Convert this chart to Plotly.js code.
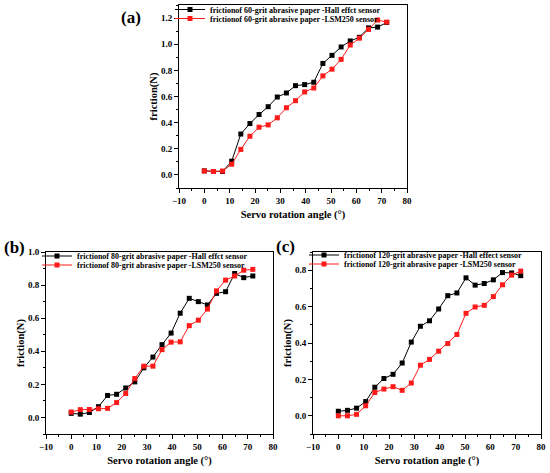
<!DOCTYPE html>
<html>
<head>
<meta charset="utf-8">
<script src="https://cdn.plot.ly/plotly-3.0.1.min.js"></script>
<style>html,body{margin:0;padding:0;background:#fff;}#chart{width:550px;height:473px;}</style>
</head>
<body>
<div id="chart"></div>
<script>
// Servo rotation angle (degrees)
const angle = [0, 3.6, 7.2, 10.8, 14.4, 18, 21.6, 25.2, 28.8, 32.4, 36, 39.6, 43.2, 46.8, 50.4, 54, 57.6, 61.2, 64.8, 68.4, 72];

// (a) 60-grit
const hall60 = [0.031, 0.026, 0.026, 0.105, 0.313, 0.393, 0.462, 0.522, 0.596, 0.627, 0.683, 0.691, 0.709, 0.853, 0.915, 0.979, 1.025, 1.053, 1.125, 1.131, 1.166];
const lsm60  = [0.031, 0.026, 0.030, 0.082, 0.195, 0.296, 0.365, 0.383, 0.437, 0.514, 0.568, 0.635, 0.665, 0.758, 0.809, 0.884, 0.994, 1.046, 1.113, 1.185, 1.169];

// (b) 80-grit
const hall80 = [0.025, 0.020, 0.030, 0.065, 0.133, 0.140, 0.178, 0.215, 0.300, 0.365, 0.440, 0.510, 0.630, 0.720, 0.700, 0.680, 0.750, 0.760, 0.870, 0.845, 0.855];
const lsm80  = [0.033, 0.047, 0.048, 0.053, 0.055, 0.090, 0.145, 0.235, 0.310, 0.310, 0.410, 0.455, 0.457, 0.555, 0.588, 0.655, 0.765, 0.830, 0.855, 0.890, 0.895];

// (c) 120-grit
const hall120 = [0.025, 0.030, 0.042, 0.078, 0.157, 0.205, 0.228, 0.290, 0.405, 0.492, 0.522, 0.587, 0.660, 0.675, 0.758, 0.718, 0.727, 0.747, 0.787, 0.785, 0.770];
const lsm120  = [0.000, 0.000, 0.008, 0.055, 0.128, 0.147, 0.160, 0.140, 0.180, 0.278, 0.310, 0.355, 0.397, 0.447, 0.563, 0.598, 0.607, 0.655, 0.720, 0.773, 0.795];

const names = {
  hall60: 'frictionof 60-grit abrasive paper -Hall effct sensor',
  lsm60: 'frictionof 60-grit abrasive paper -LSM250 sensor',
  hall80: 'frictionof 80-grit abrasive paper -Hall effct sensor',
  lsm80: 'frictionof 80-grit abrasive paper -LSM250 sensor',
  hall120: 'frictionof 120-grit abrasive paper -Hall effect sensor',
  lsm120: 'frictionof 120-grit abrasive paper -LSM250 sensor'
};
const xTitle = 'Servo rotation angle (°)';
const yTitle = 'friction(N)';
const panelLabels = ['(a)', '(b)', '(c)'];

const FONT = 'Liberation Serif, Times New Roman, serif';
const BLACK = '#000000';
const RED = '#ff1a1a';

function tr(y, name, color, ax, leg) {
  return {
    x: angle, y: y, name: name, type: 'scatter', mode: 'lines+markers',
    xaxis: 'x' + ax, yaxis: 'y' + ax, legend: leg,
    line: {color: color, width: 1},
    marker: {symbol: 'square', size: 5, color: color}
  };
}

const data = [
  tr(hall60, names.hall60, BLACK, '', 'legend'),
  tr(lsm60, names.lsm60, RED, '', 'legend2'),
  tr(hall80, names.hall80, BLACK, '2', 'legend3'),
  tr(lsm80, names.lsm80, RED, '2', 'legend4'),
  tr(hall120, names.hall120, BLACK, '3', 'legend5'),
  tr(lsm120, names.lsm120, RED, '3', 'legend6')
];

function xa(domain, anchor) {
  return {
    domain: domain, anchor: anchor, range: [-10, 80], dtick: 10, tick0: 0,
    showgrid: false, zeroline: false, showline: true, mirror: true,
    linecolor: BLACK, linewidth: 1, ticks: 'outside', ticklen: 4, tickwidth: 1, tickcolor: BLACK,
    minor: {ticks: 'outside', dtick: 5, ticklen: 2, tickcolor: BLACK},
    tickfont: {family: FONT, size: 9, color: BLACK, weight: 'bold'},
    title: {text: xTitle, font: {family: FONT, size: 10.5, color: BLACK, weight: 'bold'}, standoff: 5}
  };
}
function ya(domain, anchor, range) {
  return {
    domain: domain, anchor: anchor, range: range, dtick: 0.2, tick0: 0, tickformat: '.1f',
    showgrid: false, zeroline: false, showline: true, mirror: true,
    linecolor: BLACK, linewidth: 1, ticks: 'outside', ticklen: 4, tickwidth: 1, tickcolor: BLACK,
    minor: {ticks: 'outside', dtick: 0.1, ticklen: 2, tickcolor: BLACK},
    tickfont: {family: FONT, size: 9, color: BLACK, weight: 'bold'},
    title: {text: yTitle, font: {family: FONT, size: 10.5, color: BLACK, weight: 'bold'}, standoff: 1}
  };
}

const W = 550, H = 473;
const px = v => v / W, py = v => 1 - v / H;

function leg(x, y) {
  return {
    x: px(x), y: py(y), xanchor: 'left', yanchor: 'middle', bgcolor: 'rgba(0,0,0,0)',
    borderwidth: 0, tracegroupgap: 0, itemwidth: 30,
    font: {family: FONT, size: 8, color: BLACK, weight: 'bold'}
  };
}
function lab(text, x, y) {
  return {text: text, x: px(x), y: py(y), xref: 'paper', yref: 'paper', showarrow: false,
          xanchor: 'center', yanchor: 'middle',
          font: {family: FONT, size: 17, color: BLACK, weight: 'bold'}};
}

const layout = {
  width: W, height: H, margin: {l: 0, r: 0, t: 0, b: 0, autoexpand: false},
  paper_bgcolor: '#ffffff', plot_bgcolor: '#ffffff', showlegend: true,
  xaxis: xa([px(179), px(407)], 'y'),
  yaxis: ya([py(188), py(5)], 'x', [-0.1, 1.3]),
  xaxis2: xa([px(46), px(273)], 'y2'),
  yaxis2: ya([py(434), py(252)], 'x2', [-0.1, 1.0]),
  xaxis3: xa([px(313), px(541)], 'y3'),
  yaxis3: ya([py(434), py(252)], 'x3', [-0.1, 0.9]),
  legend: leg(170, 9.5),
  legend2: leg(170, 18.5),
  legend3: leg(37, 256),
  legend4: leg(37, 265),
  legend5: leg(304, 255),
  legend6: leg(304, 264),
  annotations: [
    lab(panelLabels[0], 131, 18),
    lab(panelLabels[1], 14, 247),
    lab(panelLabels[2], 285, 246)
  ]
};

Plotly.newPlot('chart', data, layout, {displayModeBar: false, staticPlot: true});
</script>
</body>
</html>
